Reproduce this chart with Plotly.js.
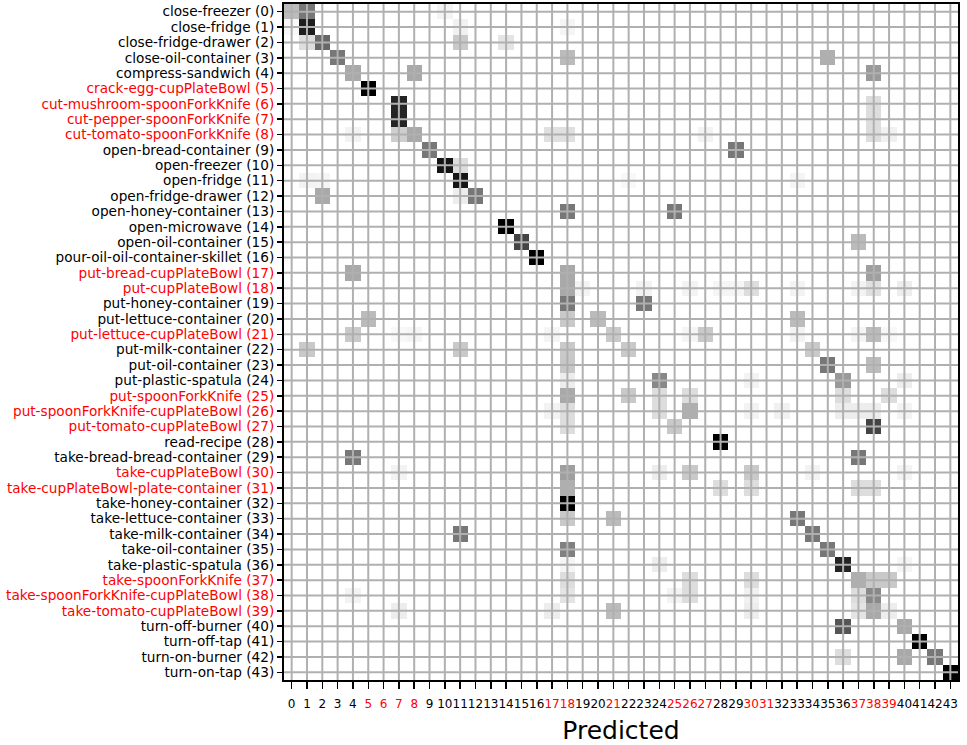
<!DOCTYPE html>
<html>
<head>
<meta charset="utf-8">
<script src="https://cdn.plot.ly/plotly-3.0.1.min.js"></script>
<style>html,body{margin:0;padding:0;background:#fff;}#chart{width:967px;height:745px;}</style>
</head>
<body>
<div id="chart"></div>
<script>
// Class names (row / column order 0..43)
const classNames = [
  "close-freezer", "close-fridge", "close-fridge-drawer", "close-oil-container",
  "compress-sandwich", "crack-egg-cupPlateBowl", "cut-mushroom-spoonForkKnife",
  "cut-pepper-spoonForkKnife", "cut-tomato-spoonForkKnife", "open-bread-container",
  "open-freezer", "open-fridge", "open-fridge-drawer", "open-honey-container",
  "open-microwave", "open-oil-container", "pour-oil-oil-container-skillet",
  "put-bread-cupPlateBowl", "put-cupPlateBowl", "put-honey-container",
  "put-lettuce-container", "put-lettuce-cupPlateBowl", "put-milk-container",
  "put-oil-container", "put-plastic-spatula", "put-spoonForkKnife",
  "put-spoonForkKnife-cupPlateBowl", "put-tomato-cupPlateBowl", "read-recipe",
  "take-bread-bread-container", "take-cupPlateBowl", "take-cupPlateBowl-plate-container",
  "take-honey-container", "take-lettuce-container", "take-milk-container",
  "take-oil-container", "take-plastic-spatula", "take-spoonForkKnife",
  "take-spoonForkKnife-cupPlateBowl", "take-tomato-cupPlateBowl", "turn-off-burner",
  "turn-off-tap", "turn-on-burner", "turn-on-tap"
];
// Classes highlighted in red
const highlighted = [5, 6, 7, 8, 17, 18, 21, 25, 26, 27, 30, 31, 37, 38, 39];

// Non-zero confusion-matrix cells: true row, predicted column, value
const cellRow = [
  0,0,0, 1,1,1,1, 2,2,2,2, 3,3,3, 4,4,4, 5, 6,6, 7,7,
  8,8,8,8,8,8,8,8, 9,9, 10,10, 11,11,11,11,11, 12,12,12, 13,13, 14, 15,15, 16,
  17,17,17, 18,18,18,18,18,18,18,18,18,18,18, 19,19, 20,20,20,20,
  21,21,21,21,21,21,21,21,21,21,21, 22,22,22,22,22, 23,23,23, 24,24,24,24,24,
  25,25,25,25,25,25, 26,26,26,26,26,26,26,26,26,26, 27,27,27, 28, 29,29,
  30,30,30,30,30,30,30, 31,31,31,31,31, 32, 33,33,33, 34,34, 35,35, 36,36,36,36,
  37,37,37,37,37,37, 38,38,38,38,38,38,38, 39,39,39,39,39,39,39, 40,40, 41,
  42,42,42, 43
];
const cellCol = [
  0,1,10, 0,1,11,18, 1,2,11,14, 3,18,35, 4,8,38, 5, 7,38, 7,38,
  4,7,8,17,18,27,38,39, 9,29, 10,11, 1,2,11,22,33, 2,11,12, 18,25, 14, 15,37, 16,
  4,18,38, 18,19,23,26,28,29,30,33,37,38,40, 18,23, 5,18,20,33,
  4,7,8,17,21,26,27,33,37,38,39, 1,11,18,22,34, 18,35,38, 18,24,30,36,40,
  18,22,24,26,36,39, 17,18,24,26,30,32,36,37,38,40, 18,25,38, 28, 4,37,
  7,18,24,26,30,34,40, 18,28,30,37,38, 18, 18,21,33, 11,34, 18,35, 18,24,36,40,
  18,26,30,37,38,39, 4,18,25,26,30,37,38, 7,17,21,30,37,38,39, 36,40, 41,
  36,40,42, 43
];
const cellValue = [
  0.38,0.61,0.10, 0.06,0.90,0.12,0.08, 0.23,0.67,0.32,0.19, 0.61,0.38,0.42, 0.44,0.44,0.49, 1.00, 0.88,0.23, 0.88,0.23,
  0.10,0.30,0.44,0.21,0.21,0.10,0.23,0.12, 0.61,0.61, 0.93,0.23, 0.10,0.08,0.93,0.06,0.08, 0.44,0.14,0.61, 0.61,0.61, 1.00, 0.79,0.38, 1.00,
  0.44,0.44,0.47, 0.44,0.10,0.10,0.10,0.08,0.08,0.23,0.10,0.10,0.21,0.14, 0.61,0.61, 0.38,0.32,0.38,0.38,
  0.32,0.06,0.08,0.08,0.32,0.08,0.32,0.10,0.08,0.38,0.06, 0.32,0.32,0.32,0.32,0.32, 0.33,0.61,0.38, 0.14,0.55,0.10,0.49,0.14,
  0.44,0.32,0.23,0.23,0.23,0.23, 0.10,0.23,0.23,0.42,0.10,0.12,0.14,0.14,0.14,0.10, 0.23,0.32,0.79, 1.00, 0.61,0.61,
  0.10,0.47,0.14,0.32,0.32,0.10,0.10, 0.42,0.23,0.23,0.23,0.23, 1.00, 0.32,0.38,0.61, 0.61,0.61, 0.58,0.61, 0.08,0.14,0.88,0.08,
  0.23,0.23,0.23,0.42,0.32,0.32, 0.10,0.19,0.10,0.23,0.12,0.23,0.55, 0.14,0.14,0.38,0.14,0.19,0.44,0.14, 0.74,0.44, 1.00,
  0.23,0.44,0.61, 1.00
];

const n = classNames.length;
const idx = classNames.map((_, i) => i);
const z = idx.map(() => idx.map(() => 0));
cellRow.forEach((r, k) => { z[r][cellCol[k]] = cellValue[k]; });

const isRed = i => highlighted.indexOf(i) >= 0;
const yText = idx.map(i => {
  const s = classNames[i] + ' (' + i + ')';
  return isRed(i) ? '<span style="color:#ff0000">' + s + '</span>' : s;
});
const xText = idx.map(i => isRed(i) ? '<span style="color:#ff0000">' + i + '</span>' : String(i));

const greys = [
  [0, '#ffffff'], [0.125, '#f0f0f0'], [0.25, '#d9d9d9'], [0.375, '#bdbdbd'],
  [0.5, '#969696'], [0.625, '#737373'], [0.75, '#525252'], [0.875, '#252525'], [1, '#000000']
];

const gridColor = '#b0b0b0';
const shapes = [];
idx.forEach(i => {
  shapes.push({type: 'line', xref: 'x', yref: 'paper', x0: i, x1: i, y0: 0, y1: 1,
               layer: 'above', line: {color: gridColor, width: 2}});
  shapes.push({type: 'line', xref: 'paper', yref: 'y', x0: 0, x1: 1, y0: i, y1: i,
               layer: 'above', line: {color: gridColor, width: 2}});
});

const trace = {
  type: 'heatmap',
  z: z, x: idx, y: idx,
  colorscale: greys, zmin: 0, zmax: 1,
  showscale: false, hoverinfo: 'x+y+z'
};

const layout = {
  width: 967, height: 745,
  margin: {l: 284, r: 9, t: 4, b: 65, pad: 0},
  paper_bgcolor: '#ffffff', plot_bgcolor: '#ffffff',
  font: {family: 'DejaVu Sans, sans-serif', color: '#000000', size: 13},
  showlegend: false,
  shapes: shapes,
  xaxis: {
    range: [-0.5, n - 0.5], tickmode: 'array', tickvals: idx, ticktext: xText,
    tickangle: 0, ticks: 'outside', ticklen: 7, tickwidth: 1.5, tickcolor: '#000',
    ticklabelstandoff: 5,
    showgrid: false, zeroline: false, showline: true, linecolor: '#000', linewidth: 2, mirror: true,
    tickfont: {size: 12},
    title: {text: 'Predicted', font: {size: 25}, standoff: 12}
  },
  yaxis: {
    range: [n - 0.5, -0.5], tickmode: 'array', tickvals: idx, ticktext: yText,
    ticks: 'outside', ticklen: 5, tickwidth: 1.5, tickcolor: '#000',
    showgrid: false, zeroline: false, showline: true, linecolor: '#000', linewidth: 2, mirror: true,
    tickfont: {size: 13.65}
  }
};

Plotly.newPlot('chart', [trace], layout, {displayModeBar: false, staticPlot: true});
</script>
</body>
</html>
